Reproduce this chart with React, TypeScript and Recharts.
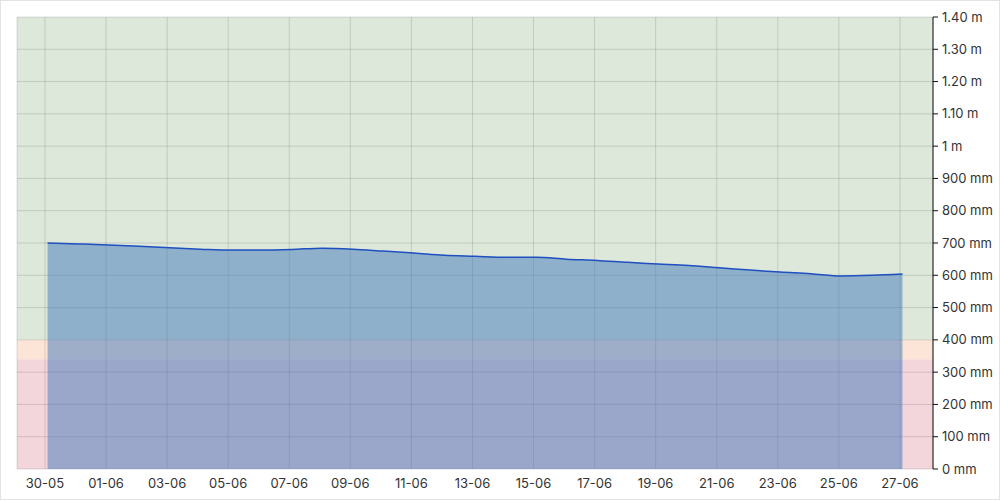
import React from "react";
import {
  AreaChart,
  Area,
  XAxis,
  YAxis,
  CartesianGrid,
  ReferenceArea,
} from "recharts";

// readings taken once a day at 02:00, hours counted from 30-05 00:00
const readingHours = [
  2, 26, 50, 74, 98, 122, 146, 170, 194, 218, 242, 266, 290, 314, 338, 362,
  386, 410, 434, 458, 482, 506, 530, 554, 578, 602, 626, 650, 674,
];
const levelMm = [
  700, 697, 694, 690, 685, 681, 678, 678, 680, 684, 681, 675, 669, 662, 659,
  656, 656, 650, 646, 640, 635, 630, 623, 616, 610, 605, 598, 600, 604,
];

const xTickHours = [0, 48, 96, 144, 192, 240, 288, 336, 384, 432, 480, 528, 576, 624, 672];
const xTickLabels = [
  "30-05", "01-06", "03-06", "05-06", "07-06", "09-06", "11-06", "13-06",
  "15-06", "17-06", "19-06", "21-06", "23-06", "25-06", "27-06",
];
const yTicks = [0, 100, 200, 300, 400, 500, 600, 700, 800, 900, 1000, 1100, 1200, 1300, 1400];

// threshold bands (mm)
const bandCritical = [0, 340];
const bandWarning = [340, 400];
const bandNormal = [400, 1400];

const data = readingHours.map((h, i) => ({ hour: h, level: levelMm[i] }));

function formatLevel(v: number) {
  if (v < 1000) return `${v} mm`;
  if (v % 1000 === 0) return `${v / 1000} m`;
  return `${(v / 1000).toFixed(2)} m`;
}

function formatHour(h: number) {
  const idx = xTickHours.indexOf(h);
  return idx >= 0 ? xTickLabels[idx] : "";
}

export default function App() {
  const tickStyle = { fontSize: 13, fill: "#333", fontFamily: "Inter, sans-serif" };
  return (
    <div
      style={{
        position: "absolute",
        left: 0,
        top: 0,
        width: 1000,
        height: 500,
        background: "#fff",
        boxShadow: "inset 0 0 0 1px #e3e3e3",
      }}
    >
      <AreaChart
        width={1000}
        height={500}
        data={data}
        margin={{ top: 17, right: 7, left: 17, bottom: 1 }}
      >
        <ReferenceArea
          y1={bandNormal[0]}
          y2={bandNormal[1]}
          fill="#dde8db"
          fillOpacity={1}
          stroke="none"
          zIndex={-200}
        />
        <ReferenceArea
          y1={bandWarning[0]}
          y2={bandWarning[1]}
          fill="#fce5d6"
          fillOpacity={1}
          stroke="none"
          zIndex={-200}
        />
        <ReferenceArea
          y1={bandCritical[0]}
          y2={bandCritical[1]}
          fill="#f3d6dc"
          fillOpacity={1}
          stroke="none"
          zIndex={-200}
        />
        <CartesianGrid stroke="#000" strokeOpacity={0.13} />
        <XAxis
          dataKey="hour"
          type="number"
          domain={[-22, 698]}
          ticks={xTickHours}
          tickFormatter={formatHour}
          tickLine={false}
          axisLine={false}
          tick={tickStyle}
          tickMargin={4}
          height={30}
          interval={0}
        />
        <YAxis
          orientation="right"
          domain={[0, 1400]}
          ticks={yTicks}
          tickFormatter={formatLevel}
          axisLine={{ stroke: "#111" }}
          tickLine={{ stroke: "#111" }}
          tickSize={5}
          tickMargin={4}
          tick={tickStyle}
          width={60}
          interval={0}
        />
        <Area
          type="monotone"
          dataKey="level"
          stroke="#1f4fc0"
          strokeWidth={1.5}
          fill="#4178b9"
          fillOpacity={0.5}
          dot={false}
          activeDot={false}
          isAnimationActive={false}
        />
      </AreaChart>
    </div>
  );
}
